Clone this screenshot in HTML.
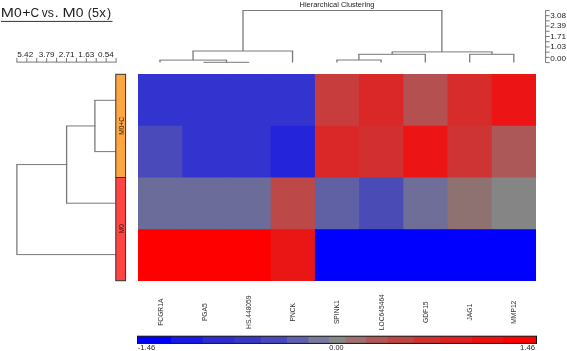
<!DOCTYPE html>
<html><head><meta charset="utf-8"><style>
html,body{margin:0;padding:0;background:#fff;width:567px;height:351px;overflow:hidden}
svg{position:absolute;left:0;top:0;will-change:transform}
</style></head><body>
<svg width="567" height="351" viewBox="0 0 567 351">
<rect x="138.00" y="74.00" width="45.22" height="52.75" fill="#3333cf"/>
<rect x="182.22" y="74.00" width="45.22" height="52.75" fill="#3333cf"/>
<rect x="226.44" y="74.00" width="45.22" height="52.75" fill="#3333cf"/>
<rect x="270.67" y="74.00" width="45.22" height="52.75" fill="#3333cf"/>
<rect x="314.89" y="74.00" width="45.22" height="52.75" fill="#c73c3c"/>
<rect x="359.11" y="74.00" width="45.22" height="52.75" fill="#da2828"/>
<rect x="403.33" y="74.00" width="45.22" height="52.75" fill="#b45050"/>
<rect x="447.56" y="74.00" width="45.22" height="52.75" fill="#d62c2c"/>
<rect x="491.78" y="74.00" width="44.22" height="52.75" fill="#ec1414"/>
<rect x="138.00" y="125.75" width="45.22" height="52.75" fill="#4a4aba"/>
<rect x="182.22" y="125.75" width="45.22" height="52.75" fill="#3333cf"/>
<rect x="226.44" y="125.75" width="45.22" height="52.75" fill="#3333cf"/>
<rect x="270.67" y="125.75" width="45.22" height="52.75" fill="#2424DA"/>
<rect x="314.89" y="125.75" width="45.22" height="52.75" fill="#da2828"/>
<rect x="359.11" y="125.75" width="45.22" height="52.75" fill="#d23030"/>
<rect x="403.33" y="125.75" width="45.22" height="52.75" fill="#ec1414"/>
<rect x="447.56" y="125.75" width="45.22" height="52.75" fill="#cf3434"/>
<rect x="491.78" y="125.75" width="44.22" height="52.75" fill="#ad5858"/>
<rect x="138.00" y="177.50" width="45.22" height="52.75" fill="#6c6c9a"/>
<rect x="182.22" y="177.50" width="45.22" height="52.75" fill="#6c6c9a"/>
<rect x="226.44" y="177.50" width="45.22" height="52.75" fill="#6c6c9a"/>
<rect x="270.67" y="177.50" width="45.22" height="52.75" fill="#bc4848"/>
<rect x="314.89" y="177.50" width="45.22" height="52.75" fill="#6060A4"/>
<rect x="359.11" y="177.50" width="45.22" height="52.75" fill="#4B4BB6"/>
<rect x="403.33" y="177.50" width="45.22" height="52.75" fill="#6E6E98"/>
<rect x="447.56" y="177.50" width="45.22" height="52.75" fill="#8E7272"/>
<rect x="491.78" y="177.50" width="44.22" height="52.75" fill="#858585"/>
<rect x="138.00" y="229.25" width="45.22" height="51.75" fill="#ff0000"/>
<rect x="182.22" y="229.25" width="45.22" height="51.75" fill="#ff0000"/>
<rect x="226.44" y="229.25" width="45.22" height="51.75" fill="#ff0000"/>
<rect x="270.67" y="229.25" width="45.22" height="51.75" fill="#ea1616"/>
<rect x="314.89" y="229.25" width="45.22" height="51.75" fill="#0000ff"/>
<rect x="359.11" y="229.25" width="45.22" height="51.75" fill="#0000ff"/>
<rect x="403.33" y="229.25" width="45.22" height="51.75" fill="#0000ff"/>
<rect x="447.56" y="229.25" width="45.22" height="51.75" fill="#0000ff"/>
<rect x="491.78" y="229.25" width="44.22" height="51.75" fill="#0000ff"/>
<path d="M242.35 10.50H442.55 M192.40 51.00H293.20 M159.35 60.10H227.15 M203.45 62.30H249.15 M391.55 51.90H492.65 M358.25 54.30H425.95 M336.35 60.00H381.75 M469.05 54.30H514.45 M94.25 100.30H116.65 M94.25 151.60H116.65 M65.95 125.95H95.55 M65.95 203.20H116.65 M16.25 164.57H67.25 M16.25 254.60H116.65" stroke="#7a7a7a" stroke-width="1.0" fill="none"/>
<path d="M243.00 10.50V51.00 M441.90 10.50V51.90 M292.55 51.00V62.40 M193.05 51.00V60.10 M160.00 60.10V62.40 M226.50 60.10V62.30 M392.20 51.90V54.30 M492.00 51.90V54.30 M425.30 54.30V62.40 M358.90 54.30V60.00 M337.00 60.00V62.40 M381.10 60.00V62.40 M469.70 54.30V62.40 M513.80 54.30V62.40 M94.90 100.30V151.60 M66.60 125.95V203.20 M16.90 164.57V254.60" stroke="#7a7a7a" stroke-width="1.3" fill="none"/>
<path d="M16.4 62.1H116.6 M16.90 57.9V62.1 M26.82 57.9V62.1 M36.74 57.9V62.1 M46.66 57.9V62.1 M56.58 57.9V62.1 M66.50 57.9V62.1 M76.42 57.9V62.1 M86.34 57.9V62.1 M96.26 57.9V62.1 M106.18 57.9V62.1 M116.10 57.9V62.1 M545.6 10.4V62.6 M545.6 10.40H549.6 M545.6 15.62H549.6 M545.6 20.84H549.6 M545.6 26.06H549.6 M545.6 31.28H549.6 M545.6 36.50H549.6 M545.6 41.72H549.6 M545.6 46.94H549.6 M545.6 52.16H549.6 M545.6 57.38H549.6 M545.6 62.60H549.6" stroke="#777" stroke-width="1" fill="none"/>
<rect x="115.8" y="74.3" width="9.8" height="103.2" fill="#FFA640" stroke="#333" stroke-width="1"/>
<rect x="115.8" y="177.5" width="9.8" height="103.2" fill="#FF4444" stroke="#333" stroke-width="1"/>
<g fill="#222" font-family="Liberation Sans, sans-serif"><text x="299.6" y="6.5" font-size="7.45" text-anchor="start" >Hierarchical Clustering</text><text x="25.25" y="56.7" font-size="8.1" text-anchor="middle" textLength="15.9" lengthAdjust="spacingAndGlyphs">5.42</text><text x="46.6" y="56.7" font-size="8.1" text-anchor="middle" textLength="15.9" lengthAdjust="spacingAndGlyphs">3.79</text><text x="66.7" y="56.7" font-size="8.1" text-anchor="middle" textLength="15.9" lengthAdjust="spacingAndGlyphs">2.71</text><text x="86.3" y="56.7" font-size="8.1" text-anchor="middle" textLength="15.9" lengthAdjust="spacingAndGlyphs">1.63</text><text x="105.9" y="56.7" font-size="8.1" text-anchor="middle" textLength="15.9" lengthAdjust="spacingAndGlyphs">0.54</text><text x="550.2" y="18.4" font-size="8.1" text-anchor="start" textLength="15.9" lengthAdjust="spacingAndGlyphs">3.08</text><text x="550.2" y="28.3" font-size="8.1" text-anchor="start" textLength="15.9" lengthAdjust="spacingAndGlyphs">2.39</text><text x="550.2" y="38.5" font-size="8.1" text-anchor="start" textLength="15.9" lengthAdjust="spacingAndGlyphs">1.71</text><text x="550.2" y="49.1" font-size="8.1" text-anchor="start" textLength="15.9" lengthAdjust="spacingAndGlyphs">1.03</text><text x="550.2" y="60.5" font-size="8.1" text-anchor="start" textLength="15.9" lengthAdjust="spacingAndGlyphs">0.00</text><text x="0" y="0" font-size="6.7" fill="#333" text-anchor="middle" transform="translate(162.51,312.2) rotate(-90)">FCGR1A</text><text x="0" y="0" font-size="6.7" fill="#333" text-anchor="middle" transform="translate(206.73,312.2) rotate(-90)">PGA5</text><text x="0" y="0" font-size="6.7" fill="#333" text-anchor="middle" transform="translate(250.96,312.2) rotate(-90)">HS.448059</text><text x="0" y="0" font-size="6.7" fill="#333" text-anchor="middle" transform="translate(295.18,312.2) rotate(-90)">PNCK</text><text x="0" y="0" font-size="6.7" fill="#333" text-anchor="middle" transform="translate(339.40,312.2) rotate(-90)">SPINK1</text><text x="0" y="0" font-size="6.7" fill="#333" text-anchor="middle" transform="translate(383.62,312.2) rotate(-90)">LOC645464</text><text x="0" y="0" font-size="6.7" fill="#333" text-anchor="middle" transform="translate(427.84,312.2) rotate(-90)">GDF15</text><text x="0" y="0" font-size="6.7" fill="#333" text-anchor="middle" transform="translate(472.07,312.2) rotate(-90)">JAG1</text><text x="0" y="0" font-size="6.7" fill="#333" text-anchor="middle" transform="translate(516.29,312.2) rotate(-90)">MMP12</text><text x="0" y="0" font-size="6.6" text-anchor="middle" transform="translate(123.7,125.9) rotate(-90)">M0+C</text><text x="0" y="0" font-size="6.6" text-anchor="middle" transform="translate(123.7,228.6) rotate(-90)">M0</text><text x="137.7" y="349.9" font-size="7.5" text-anchor="start" textLength="17.6" lengthAdjust="spacingAndGlyphs">-1.46</text><text x="336.45" y="349.8" font-size="7.2" text-anchor="middle" textLength="14.2" lengthAdjust="spacingAndGlyphs">0.00</text><text x="535.0" y="349.5" font-size="7.4" text-anchor="end" textLength="15.0" lengthAdjust="spacingAndGlyphs">1.46</text></g>
<g font-family="Liberation Sans, sans-serif" font-size="13.5" fill="#222" text-anchor="middle"><text transform="translate(7.25,17.35) scale(1.17,1)" x="0" y="0">M</text><text transform="translate(17.75,17.35) scale(1.03,1)" x="0" y="0">0</text><text transform="translate(26.50,17.35) scale(1.07,1)" x="0" y="0">+</text><text transform="translate(34.90,17.35) scale(0.88,1)" x="0" y="0">C</text><text transform="translate(44.70,17.35) scale(0.88,1)" x="0" y="0">v</text><text transform="translate(50.75,17.35) scale(0.91,1)" x="0" y="0">s</text><text transform="translate(56.65,17.35) scale(1.15,1)" x="0" y="0">.</text><text transform="translate(69.00,17.35) scale(1.17,1)" x="0" y="0">M</text><text transform="translate(79.60,17.35) scale(1.03,1)" x="0" y="0">0</text><text transform="translate(89.90,17.35) scale(0.91,1)" x="0" y="0">(</text><text transform="translate(95.50,17.35) scale(0.93,1)" x="0" y="0">5</text><text transform="translate(102.60,17.35) scale(0.98,1)" x="0" y="0">x</text><text transform="translate(109.00,17.35) scale(0.91,1)" x="0" y="0">)</text></g>
<rect x="0.9" y="20.9" width="111.6" height="1" fill="#333"/>
<rect x="137.50" y="336.2" width="34.50" height="7.20" fill="#0000FF"/>
<rect x="171.00" y="336.2" width="32.49" height="7.20" fill="#1818E8"/>
<rect x="202.49" y="336.2" width="32.69" height="7.20" fill="#2C2CD4"/>
<rect x="234.18" y="336.2" width="27.66" height="7.20" fill="#3838C8"/>
<rect x="260.84" y="336.2" width="27.06" height="7.20" fill="#4848C0"/>
<rect x="286.90" y="336.2" width="22.43" height="7.20" fill="#6060B0"/>
<rect x="308.33" y="336.2" width="21.52" height="7.20" fill="#7878A0"/>
<rect x="328.85" y="336.2" width="17.80" height="7.20" fill="#888888"/>
<rect x="345.65" y="336.2" width="21.52" height="7.20" fill="#A07070"/>
<rect x="366.17" y="336.2" width="22.43" height="7.20" fill="#B05858"/>
<rect x="387.60" y="336.2" width="27.06" height="7.20" fill="#C04444"/>
<rect x="413.66" y="336.2" width="27.66" height="7.20" fill="#D03030"/>
<rect x="440.32" y="336.2" width="32.69" height="7.20" fill="#E02020"/>
<rect x="472.01" y="336.2" width="32.49" height="7.20" fill="#EE1010"/>
<rect x="503.50" y="336.2" width="33.50" height="7.20" fill="#FF0000"/>
<rect x="137.5" y="336.2" width="399.0" height="7.20" fill="none" stroke="#111" stroke-width="1"/>
</svg>
</body></html>
